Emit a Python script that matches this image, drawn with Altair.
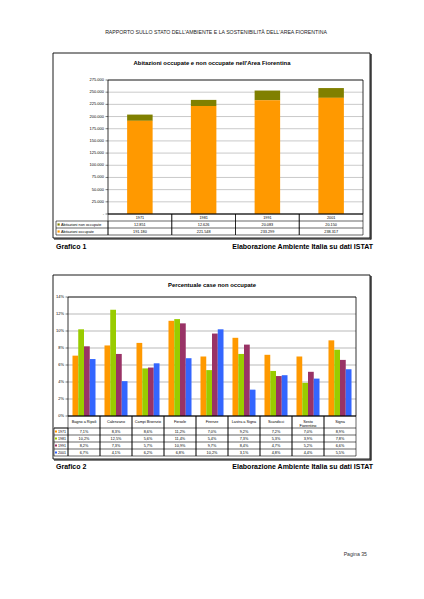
import altair as alt
import pandas as pd

FONT = "Liberation Sans"

# ---------------- data ----------------
header_text = "RAPPORTO SULLO STATO DELL'AMBIENTE E LA SOSTENIBILITÀ DELL'AREA FIORENTINA"
title1 = "Abitazioni occupate e non occupate nell'Area Fiorentina"
title2 = "Percentuale case non occupate"
caption1 = "Grafico 1"
caption2 = "Grafico 2"
source_text = "Elaborazione Ambiente Italia su dati ISTAT"
page_text = "Pagina 35"

years1 = ["1971", "1981", "1991", "2001"]
series1 = ["Abitazioni non occupate", "Abitazioni occupate"]
non_occupate = [12851, 12626, 20083, 20150]
occupate = [191180, 221548, 233299, 238317]
ticks1 = [0, 25000, 50000, 75000, 100000, 125000, 150000, 175000, 200000, 225000, 250000, 275000]
colors1 = ["#808000", "#FF9900"]

comuni = ["Bagno a Ripoli", "Calenzano", "Campi Bisenzio", "Fiesole", "Firenze",
          "Lastra a Signa", "Scandicci", "Sesto Fiorentino", "Signa"]
comuni_labels = ["Bagno a Ripoli", "Calenzano", "Campi Bisenzio", "Fiesole", "Firenze",
                 "Lastra a Signa", "Scandicci", "Sesto\nFiorentino", "Signa"]
years2 = ["1971", "1981", "1991", "2001"]
p1971 = [7.1, 8.3, 8.6, 11.2, 7.0, 9.2, 7.2, 7.0, 8.9]
p1981 = [10.2, 12.5, 5.6, 11.4, 5.4, 7.3, 5.3, 3.9, 7.8]
p1991 = [8.2, 7.3, 5.7, 10.9, 9.7, 8.4, 4.7, 5.2, 6.6]
p2001 = [6.7, 4.1, 6.2, 6.8, 10.2, 3.1, 4.8, 4.4, 5.5]
ticks2 = [0, 2, 4, 6, 8, 10, 12, 14]
colors2 = ["#FF9900", "#99CC00", "#993366", "#3366FF"]

# ---------------- layout (view coords = page - 8) ----------------
W, H = 408, 583
O = 8
def v(p):
    return p - O

one = alt.Data(values=[{"k": 1}])

def txt(s, x, y, size, bold=False, align="left", color="black", baseline="middle"):
    return alt.Chart(alt.Data(values=[{"t": s}])).mark_text(
        align=align, baseline=baseline, fontSize=size, font=FONT,
        fontWeight="bold" if bold else "normal", color=color
    ).encode(x=alt.value(x), y=alt.value(y), text="t:N")

def box(x1, x2, y1, y2, stroke="black", sw=1.0, fill="white", fo=0.0):
    return alt.Chart(one).mark_rect(
        stroke=stroke, strokeWidth=sw, fill=fill, fillOpacity=fo
    ).encode(x=alt.value(x1), x2=alt.value(x2), y=alt.value(y1), y2=alt.value(y2))

def hline(x1, x2, y, color="black", sw=0.6):
    return alt.Chart(one).mark_rule(color=color, strokeWidth=sw).encode(
        x=alt.value(x1), x2=alt.value(x2), y=alt.value(y))

def swatch(x, y, color, s=2.2):
    return alt.Chart(one).mark_rect(color=color).encode(
        x=alt.value(x), x2=alt.value(x + s), y=alt.value(y - s / 2), y2=alt.value(y + s / 2))

# ---------------- decorations ----------------
deco = [
    txt(header_text, v(216), v(32), 5.2, align="center", color="#222222"),
    # chart 1 box
    box(v(53), v(370), v(53), v(238), sw=0.9),
    hline(v(54), v(371), v(239), sw=1.2),
    alt.Chart(one).mark_rule(color="black", strokeWidth=1.2).encode(
        x=alt.value(v(371)), y=alt.value(v(54)), y2=alt.value(v(239.5))),
    txt(title1, v(212), v(63), 5.9, bold=True, align="center"),
    txt(caption1, v(56), v(247), 7, bold=True),
    txt(source_text, v(373), v(247), 7, bold=True, align="right"),
    # chart 2 box
    box(v(53), v(370), v(275), v(459), sw=0.9),
    hline(v(54), v(371), v(460), sw=1.2),
    alt.Chart(one).mark_rule(color="black", strokeWidth=1.2).encode(
        x=alt.value(v(371)), y=alt.value(v(276)), y2=alt.value(v(460.5))),
    txt(title2, v(212), v(285), 5.9, bold=True, align="center"),
    txt(caption2, v(56), v(467), 7, bold=True),
    txt(source_text, v(373), v(467), 7, bold=True, align="right"),
    txt(page_text, v(367), v(554), 5.2, align="right", color="#333333"),
]

# ---------------- chart 1 ----------------
P1L, P1R, P1T, P1B = v(108), v(363), v(80), v(214)
R1 = [v(214), v(221), v(228), v(235)]
xs1 = alt.Scale(domain=years1, range=[P1L, P1R], paddingInner=0, paddingOuter=0)
ys1 = alt.Scale(domain=[0, 275000], range=[P1B, P1T], nice=False, zero=True)

df1 = pd.DataFrame({
    "anno": years1 * 2,
    "serie": [series1[0]] * 4 + [series1[1]] * 4,
    "valore": non_occupate + occupate,
    "ordine": [2] * 4 + [1] * 4,
})
fmt_it = lambda n: f"{n:,}".replace(",", ".")
dft1 = pd.DataFrame({"v": ticks1, "lab": [fmt_it(t) if t else "-" for t in ticks1]})
dfrow = pd.DataFrame({"anno": years1,
                      "non": [fmt_it(n) for n in non_occupate],
                      "occ": [fmt_it(n) for n in occupate]})

grid1 = alt.Chart(dft1).mark_rule(color="#A6A6A6", strokeWidth=0.6).encode(
    y=alt.Y("v:Q", scale=ys1, axis=None), x=alt.value(P1L), x2=alt.value(P1R))
tickm1 = alt.Chart(dft1).mark_rule(color="black", strokeWidth=0.5).encode(
    y=alt.Y("v:Q", scale=ys1, axis=None), x=alt.value(P1L - 2.5), x2=alt.value(P1L))
labs1 = alt.Chart(dft1).mark_text(align="right", baseline="middle", fontSize=4, font=FONT).encode(
    y=alt.Y("v:Q", scale=ys1, axis=None), x=alt.value(P1L - 4), text="lab:N")
bars1 = alt.Chart(df1).mark_bar(width=alt.RelativeBandSize(0.4)).encode(
    x=alt.X("anno:N", scale=xs1, axis=None),
    y=alt.Y("valore:Q", stack="zero", scale=ys1, axis=None),
    color=alt.Color("serie:N", scale=alt.Scale(domain=series1, range=colors1), legend=None),
    order=alt.Order("ordine:Q"),
)
frame1 = box(P1L, P1R, P1T, P1B, sw=0.8)
cells1 = alt.Chart(dfrow).mark_rect(stroke="black", strokeWidth=0.6, fillOpacity=0).encode(
    x=alt.X("anno:N", scale=xs1, axis=None), y=alt.value(R1[0]), y2=alt.value(R1[3]))
row_lines1 = [hline(P1L, P1R, R1[1]), hline(v(56), P1R, R1[2])]
legbox1 = box(v(56), P1L, R1[1], R1[3], sw=0.6)
t_year = alt.Chart(dfrow).mark_text(fontSize=3.8, font=FONT, baseline="middle").encode(
    x=alt.X("anno:N", scale=xs1, axis=None), y=alt.value((R1[0] + R1[1]) / 2), text="anno:N")
t_non = alt.Chart(dfrow).mark_text(fontSize=3.8, font=FONT, baseline="middle").encode(
    x=alt.X("anno:N", scale=xs1, axis=None), y=alt.value((R1[1] + R1[2]) / 2), text="non:N")
t_occ = alt.Chart(dfrow).mark_text(fontSize=3.8, font=FONT, baseline="middle").encode(
    x=alt.X("anno:N", scale=xs1, axis=None), y=alt.value((R1[2] + R1[3]) / 2), text="occ:N")
leg1 = [
    swatch(v(57.5), (R1[1] + R1[2]) / 2, colors1[0]),
    txt(series1[0], v(61), (R1[1] + R1[2]) / 2, 3.8),
    swatch(v(57.5), (R1[2] + R1[3]) / 2, colors1[1]),
    txt(series1[1], v(61), (R1[2] + R1[3]) / 2, 3.8),
]
group1 = alt.layer(grid1, bars1, frame1, tickm1, labs1, cells1, *row_lines1, legbox1,
                   t_year, t_non, t_occ, *leg1)

# ---------------- chart 2 ----------------
P2L, P2R, P2T, P2B = v(68), v(356), v(297), v(416)
R2 = [v(416), v(428), v(435), v(442), v(449), v(456)]
xs2 = alt.Scale(domain=comuni, range=[P2L, P2R], paddingInner=0, paddingOuter=0)
ys2 = alt.Scale(domain=[0, 14], range=[P2B, P2T], nice=False, zero=True)

vals2 = [p1971, p1981, p1991, p2001]
df2 = pd.DataFrame({
    "comune": [c for _ in years2 for c in comuni],
    "anno": [y for y in years2 for _ in comuni],
    "pct": [x for s in vals2 for x in s],
})
dft2 = pd.DataFrame({"v": ticks2, "lab": [f"{t}%" for t in ticks2]})
dfc = pd.DataFrame({"comune": comuni, "lab": comuni_labels})
for y, s in zip(years2, vals2):
    dfc["y" + y] = [f"{x:.1f}".replace(".", ",") + "%" for x in s]

grid2 = alt.Chart(dft2).mark_rule(color="#8C8C8C", strokeWidth=0.6).encode(
    y=alt.Y("v:Q", scale=ys2, axis=None), x=alt.value(P2L), x2=alt.value(P2R))
tickm2 = alt.Chart(dft2).mark_rule(color="black", strokeWidth=0.5).encode(
    y=alt.Y("v:Q", scale=ys2, axis=None), x=alt.value(P2L - 2.5), x2=alt.value(P2L))
labs2 = alt.Chart(dft2).mark_text(align="right", baseline="middle", fontSize=4, font=FONT).encode(
    y=alt.Y("v:Q", scale=ys2, axis=None), x=alt.value(P2L - 4), text="lab:N")
bars2 = alt.Chart(df2).mark_bar().encode(
    x=alt.X("comune:N", scale=xs2, axis=None),
    xOffset=alt.XOffset("anno:N", scale=alt.Scale(domain=years2, paddingInner=0, paddingOuter=0.78)),
    y=alt.Y("pct:Q", scale=ys2, axis=None),
    color=alt.Color("anno:N", scale=alt.Scale(domain=years2, range=colors2), legend=None),
)
frame2 = box(P2L, P2R, P2T, P2B, sw=0.8)
cells2 = alt.Chart(dfc).mark_rect(stroke="black", strokeWidth=0.6, fillOpacity=0).encode(
    x=alt.X("comune:N", scale=xs2, axis=None), y=alt.value(R2[0]), y2=alt.value(R2[5]))
row_lines2 = [hline(v(54), P2R, r) for r in R2[1:5]]
legbox2 = box(v(54), P2L, R2[1], R2[5], sw=0.6)
t_head = alt.Chart(dfc).mark_text(fontSize=3.8, font=FONT, baseline="middle", lineBreak="\n",
                                  lineHeight=4.4).encode(
    x=alt.X("comune:N", scale=xs2, axis=None), y=alt.value((R2[0] + R2[1]) / 2), text="lab:N")
t_rows2 = []
leg2 = []
for i, y in enumerate(years2):
    yc = (R2[i + 1] + R2[i + 2]) / 2
    t_rows2.append(alt.Chart(dfc).mark_text(fontSize=3.8, font=FONT, baseline="middle").encode(
        x=alt.X("comune:N", scale=xs2, axis=None), y=alt.value(yc), text=f"y{y}:N"))
    leg2.append(swatch(v(55), yc, colors2[i], s=2.0))
    leg2.append(txt(y, v(58), yc, 3.6))
group2 = alt.layer(grid2, bars2, frame2, tickm2, labs2, cells2, *row_lines2, legbox2,
                   t_head, *t_rows2, *leg2)

chart = alt.layer(*deco, group1, group2).resolve_scale(
    x="independent", y="independent", color="independent"
).properties(width=W, height=H, padding=0, background="white").configure_view(stroke=None)

chart.save("out.html", embed_options={"renderer": "svg", "actions": False})
